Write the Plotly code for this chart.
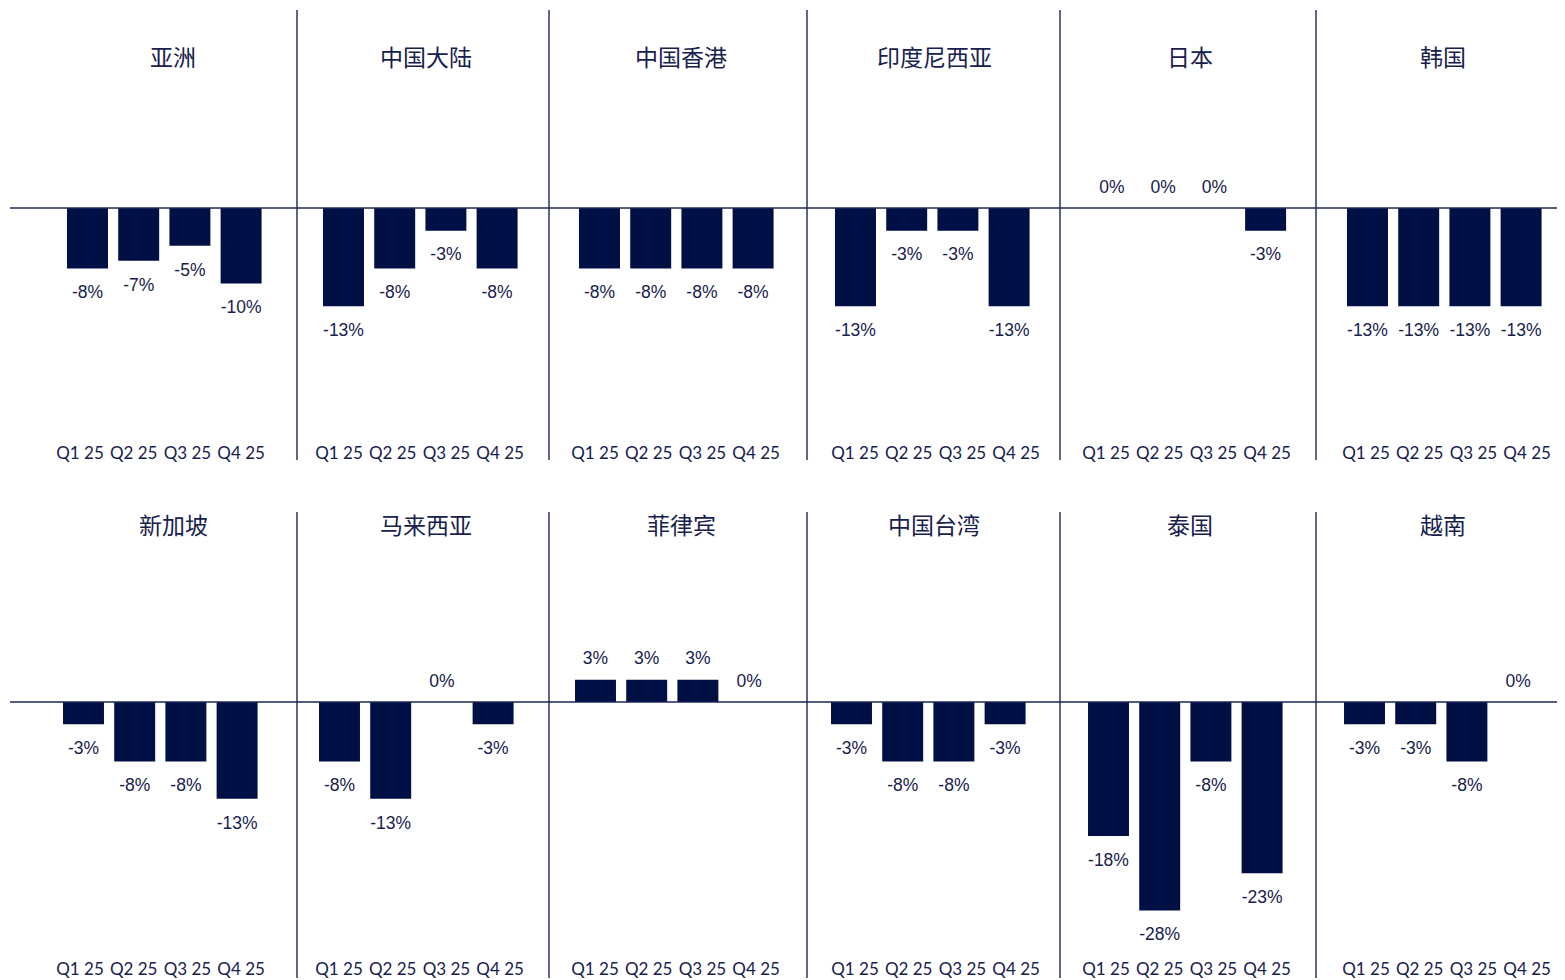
import plotly.graph_objects as go

# the page body adds an 8px margin, so the figure is sized to fit the window
OFF = 8
W, H = 1565 - OFF, 980 - OFF

quarters = ["Q1 25", "Q2 25", "Q3 25", "Q4 25"]
regions = ["亚洲", "中国大陆", "中国香港", "印度尼西亚", "日本", "韩国",
           "新加坡", "马来西亚", "菲律宾", "中国台湾", "泰国", "越南"]

asia = [-8, -7, -5, -10]
china_mainland = [-13, -8, -3, -8]
hong_kong = [-8, -8, -8, -8]
indonesia = [-13, -3, -3, -13]
japan = [0, 0, 0, -3]
korea = [-13, -13, -13, -13]
singapore = [-3, -8, -8, -13]
malaysia = [-8, -13, 0, -3]
philippines = [3, 3, 3, 0]
taiwan = [-3, -8, -8, -3]
thailand = [-18, -28, -8, -23]
vietnam = [-3, -3, -8, 0]

series = [asia, china_mainland, hong_kong, indonesia, japan, korea,
          singapore, malaysia, philippines, taiwan, thailand, vietnam]

BAR = "#001045"
TXT = "#17214d"
LINE = "#1c2757"

# layout geometry (pixels in the 1565x980 window)
first_bar_center = [87.5, 343.5, 599.5, 855.5, 1112, 1367.5,
                    83.5, 339.5, 595.5, 851.5, 1108.5, 1364.5]
step = 51.2
tick_first = [80, 339, 595, 855, 1106, 1366]
tick_step = 53.7
title_x = [173, 426, 681, 934, 1190, 1443]
row_title_y = [56, 524]
row_ydom = [(10, 441), (512, 957)]
row_zero = [208, 702]
row_scale = [7.55, 7.45]
dividers = [297, 549, 807, 1060, 1316]
row_div = [(10, 460), (512, 978)]


def px(x):
    return (x - OFF) / W


def py(y):
    return 1 - (y - OFF) / H


fig = go.Figure()
layout = dict(
    width=W, height=H, margin=dict(l=0, r=0, t=0, b=0),
    paper_bgcolor="white", plot_bgcolor="rgba(0,0,0,0)",
    showlegend=False, bargap=0.2,
    shapes=[], annotations=[],
)

for i, (name, vals) in enumerate(zip(regions, series)):
    row = i // 6
    col = i % 6
    n = i + 1
    nt = i + 13
    xa = "x" if n == 1 else f"x{n}"
    ya = "y" if n == 1 else f"y{n}"
    xt = f"x{nt}"
    xkey = "xaxis" if n == 1 else f"xaxis{n}"
    ykey = "yaxis" if n == 1 else f"yaxis{n}"
    xtkey = f"xaxis{nt}"

    c0 = first_bar_center[i]
    x0 = c0 - step / 2
    x1 = c0 + 3.5 * step
    t0 = tick_first[col]
    tx0 = t0 - tick_step / 2
    tx1 = t0 + 3.5 * tick_step
    ytop, ybot = row_ydom[row]
    z = row_zero[row]
    s = row_scale[row]
    yr = [-(ybot - z) / s, (z - ytop) / s]

    fig.add_trace(go.Bar(
        x=quarters, y=vals, xaxis=xa, yaxis=ya,
        marker=dict(color=BAR, line=dict(width=0)), width=0.8,
        hoverinfo="skip",
    ))
    fig.add_trace(go.Scatter(
        x=quarters, y=vals, xaxis=xa, yaxis=ya,
        mode="markers+text",
        text=[f"{v}%" for v in vals],
        textposition=["bottom center" if v < 0 else "top center" for v in vals],
        textfont=dict(family="Liberation Sans, Arial, sans-serif", size=17.5, color=TXT),
        marker=dict(size=[25 if v < 0 else 16 for v in vals], opacity=0),
        hoverinfo="skip", cliponaxis=False,
    ))
    # category axis carrying the quarter labels
    fig.add_trace(go.Scatter(
        x=quarters, y=vals, xaxis=xt, yaxis=ya, mode="markers",
        marker=dict(size=1, opacity=0), hoverinfo="skip",
    ))

    layout[xkey] = dict(
        domain=[px(x0), px(x1)], anchor=ya, type="category",
        categoryorder="array", categoryarray=quarters,
        range=[-0.5, 3.5], showgrid=False, zeroline=False, showline=False,
        showticklabels=False, ticks="", fixedrange=True,
    )
    layout[xtkey] = dict(
        domain=[px(tx0), px(tx1)], anchor=ya, type="category",
        categoryorder="array", categoryarray=quarters,
        range=[-0.5, 3.5], showgrid=False, zeroline=False, showline=False,
        ticks="", tickfont=dict(family="Lato, Open Sans, sans-serif", size=17, color=TXT),
        fixedrange=True,
    )
    layout[ykey] = dict(
        domain=[py(ybot), py(ytop)], anchor=xa, range=yr,
        showgrid=False, zeroline=False, showline=False, showticklabels=False,
        fixedrange=True,
    )

    layout["annotations"].append(dict(
        x=px(title_x[col]), y=py(row_title_y[row]), xref="paper", yref="paper",
        text=name, showarrow=False, xanchor="center", yanchor="middle",
        font=dict(family="Noto Sans CJK SC", size=23, color=TXT),
    ))

    if col == 0:
        layout["shapes"].append(dict(
            type="line", xref="paper", yref=ya, x0=px(10), x1=1, y0=0, y1=0,
            line=dict(color=LINE, width=1.4), layer="above",
        ))

for row in range(2):
    for d in dividers:
        layout["shapes"].append(dict(
            type="line", xref="paper", yref="paper",
            x0=px(d), x1=px(d), y0=py(row_div[row][0]), y1=py(row_div[row][1]),
            line=dict(color=LINE, width=1.4), layer="above",
        ))

fig.update_layout(**layout)
fig.write_html("out.html", config={"displayModeBar": False})
